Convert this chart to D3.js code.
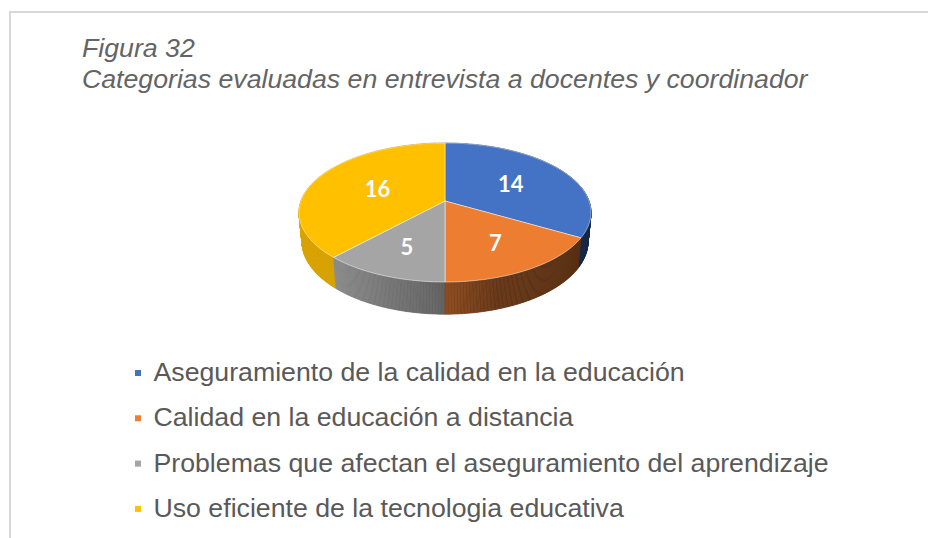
<!DOCTYPE html>
<html>
<head>
<meta charset="utf-8">
<script src="https://cdn.jsdelivr.net/npm/d3@7"></script>
<style>
  html, body { margin: 0; padding: 0; background: #ffffff; }
  svg { display: block; }
</style>
</head>
<body>
<svg id="chart" width="928" height="538"></svg>
<script>
// Chart content
const titleLines = ["Figura 32", "Categorias evaluadas en entrevista a docentes y coordinador"];
const categories = [
  "Aseguramiento de la calidad en la educación",
  "Calidad en la educación a distancia",
  "Problemas que afectan el aseguramiento del aprendizaje",
  "Uso eficiente de la tecnologia educativa"
];
const values = [14, 7, 5, 16];
const colors = ["#4472C4", "#ED7D31", "#A5A5A5", "#FFC000"];

const svg = d3.select("#chart");

// Chart-area frame (only the top and left edges fall inside the window)
svg.append("rect")
  .attr("x", 10).attr("y", 12)
  .attr("width", 1200).attr("height", 1200)
  .attr("fill", "#ffffff")
  .attr("stroke", "#d9d9d9").attr("stroke-width", 2);

// Title
svg.append("g").selectAll("text").data(titleLines).join("text")
  .attr("x", 82)
  .attr("y", (d, i) => 57 + i * 31)
  .attr("font-family", "'Liberation Sans', Arial, sans-serif")
  .attr("font-style", "italic")
  .attr("font-size", 26.7)
  .attr("fill", "#646464")
  .text(d => d);

// 3D pie geometry: a cylinder of radius R and height H seen from elevation alpha
const cx = 445, cy = 201;
const R = 144, H = 33;
const alpha = 28 * Math.PI / 180;
const D = 768; // viewer distance for perspective
const sinA = Math.sin(alpha), cosA = Math.cos(alpha);

// angle measured clockwise from the back (12 o'clock), y = 0 top face, y = -H bottom
function project(theta, r, y) {
  const X = r * Math.sin(theta);
  const Z = -r * Math.cos(theta);
  const s = Z * sinA - y * cosA;
  const w = Z * cosA + y * sinA;
  const f = D / (D - w);
  return [cx + X * f, cy + s * f];
}

const arcs = d3.pie().sort(null).value(d => d)(values);

// side-wall shading as a function of horizontal facing (sin theta: -1 left .. 1 right)
const shade = d3.scaleLinear()
  .domain([-1, -0.7, 0, 0.3, 1])
  .range([0.86, 0.84, 0.58, 0.42, 0.36])
  .clamp(true);

function shaded(color, k) {
  const c = d3.rgb(color);
  return d3.rgb(c.r * k, c.g * k, c.b * k).formatHex();
}

// Outer walls split into thin quads, painted back to front
const step = Math.PI / 360;
const quads = [];
arcs.forEach((a, i) => {
  const n = Math.max(1, Math.ceil((a.endAngle - a.startAngle) / step));
  for (let j = 0; j < n; j++) {
    const t1 = a.startAngle + (a.endAngle - a.startAngle) * j / n;
    const t2 = a.startAngle + (a.endAngle - a.startAngle) * (j + 1) / n;
    const tm = (t1 + t2) / 2;
    quads.push({
      i, depth: -Math.cos(tm),
      pts: [project(t1, R, 0), project(t2, R, 0), project(t2, R, -H), project(t1, R, -H)],
      color: shaded(colors[i], shade(Math.sin(tm)))
    });
  }
});
quads.sort((a, b) => a.depth - b.depth);

svg.append("g").selectAll("path").data(quads).join("path")
  .attr("d", q => "M" + q.pts.map(p => p.join(",")).join("L") + "Z")
  .attr("fill", q => q.color)
  .attr("stroke", q => q.color)
  .attr("stroke-width", 0.7);

// Top faces
const tops = arcs.map((a, i) => {
  const n = Math.max(2, Math.ceil((a.endAngle - a.startAngle) / step));
  const pts = [project(0, 0, 0)];
  for (let j = 0; j <= n; j++) {
    pts.push(project(a.startAngle + (a.endAngle - a.startAngle) * j / n, R, 0));
  }
  // label anchor: centroid of the circular sector, projected
  const half = (a.endAngle - a.startAngle) / 2;
  const rc = (2 / 3) * R * Math.sin(half) / half;
  const label = project(a.startAngle + half, rc, 0);
  return { i, pts, label };
});

svg.append("g").selectAll("path").data(tops).join("path")
  .attr("d", t => "M" + t.pts.map(p => p.join(",")).join("L") + "Z")
  .attr("fill", t => colors[t.i])
  .attr("stroke", "#ffffff")
  .attr("stroke-opacity", 0.6)
  .attr("stroke-width", 0.8)
  .attr("stroke-linejoin", "round");

// Value labels
svg.append("g").selectAll("text").data(tops).join("text")
  .attr("x", t => t.label[0])
  .attr("y", t => t.label[1])
  .attr("text-anchor", "middle")
  .attr("dominant-baseline", "central")
  .attr("font-family", "Lato, 'Open Sans', sans-serif")
  .attr("font-weight", 700)
  .attr("font-size", 22)
  .attr("fill", "#ffffff")
  .text(t => values[t.i]);

// Legend
const legend = svg.append("g").selectAll("g").data(categories).join("g")
  .attr("transform", (d, i) => `translate(0, ${381 + i * 45.3})`);

legend.append("rect")
  .attr("x", 135).attr("y", -11)
  .attr("width", 6).attr("height", 6)
  .attr("fill", (d, i) => colors[i]);

legend.append("text")
  .attr("x", 153.5)
  .attr("y", 0)
  .attr("font-family", "'Liberation Sans', Arial, sans-serif")
  .attr("font-size", 26.7)
  .attr("fill", "#595959")
  .text(d => d);
</script>
</body>
</html>
